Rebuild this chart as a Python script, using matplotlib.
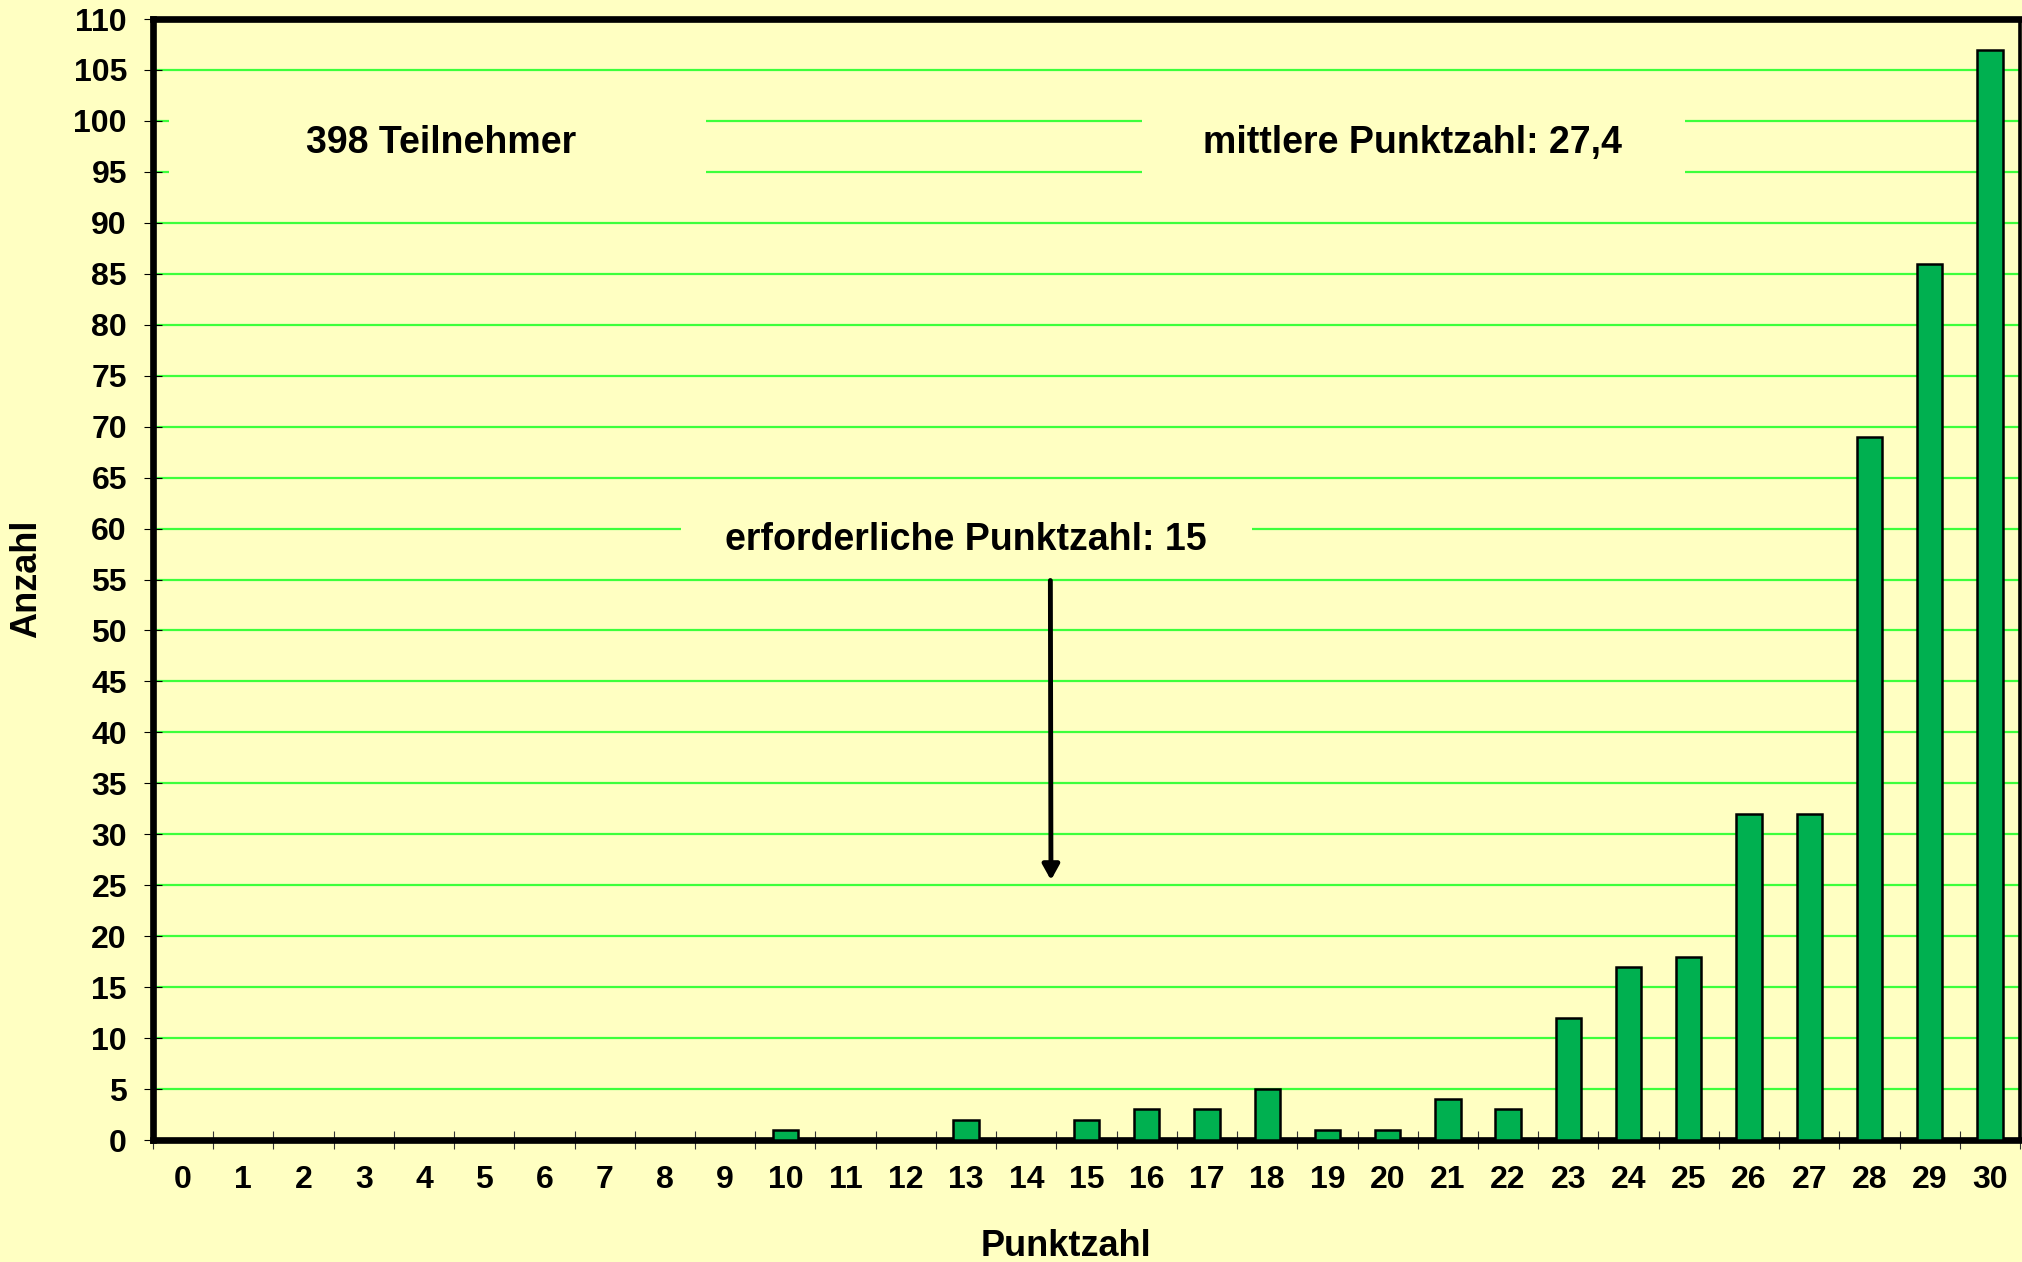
import matplotlib
matplotlib.use("Agg")
import matplotlib.pyplot as plt
from matplotlib.patches import Rectangle
from matplotlib.ticker import FixedLocator, MultipleLocator

# Punktzahl (0..30) and number of participants per score
punktzahl = list(range(0, 31))
anzahl = [0, 0, 0, 0, 0, 0, 0, 0, 0, 0,
          1, 0, 0, 2, 0, 2, 3, 3, 5, 1,
          1, 4, 3, 12, 17, 18, 32, 32, 69, 86,
          107]

teilnehmer_text = "398 Teilnehmer"
mittel_text = "mittlere Punktzahl: 27,4"
erforderlich_text = "erforderliche Punktzahl: 15"
erforderlich = 15

BG = "#FFFFC2"
BAR = "#00B050"
GRID = "#3CFF3C"

plt.rcParams["font.family"] = ["Liberation Sans", "DejaVu Sans"]
plt.rcParams["font.weight"] = "bold"

fig = plt.figure(figsize=(20.22, 12.62), dpi=100, facecolor=BG)
W, H = 2022, 1262
ax = fig.add_axes([153 / W, 1 - 1140 / H, (2020 - 153) / W, (1140 - 19) / H])
ax.set_facecolor(BG)

ax.bar(punktzahl, anzahl, width=0.42, color=BAR, edgecolor="black",
       linewidth=1.8, zorder=3)

ax.set_xlim(-0.5, 30.5)
ax.set_ylim(0, 110)

# y axis
ax.yaxis.set_major_locator(MultipleLocator(5))
ax.yaxis.grid(True, color=GRID, linewidth=1.6, zorder=0)
ax.set_axisbelow(True)
ax.tick_params(axis="y", which="major", direction="inout", length=13.5,
               width=0.8, labelsize=23, pad=12, colors="black")

# x axis: labels centred on categories, tick marks between them
ax.xaxis.set_major_locator(FixedLocator(punktzahl))
ax.set_xticklabels([str(p) for p in punktzahl])
ax.xaxis.set_minor_locator(FixedLocator([p - 0.5 for p in punktzahl] + [30.5]))
ax.tick_params(axis="x", which="major", length=0, labelsize=23, pad=18)
ax.tick_params(axis="x", which="minor", direction="inout", length=13,
               width=0.8, color="#333333")
for lbl in ax.get_xticklabels() + ax.get_yticklabels():
    lbl.set_fontweight("bold")

for side in ("left", "top", "bottom"):
    ax.spines[side].set_linewidth(4.8)
    ax.spines[side].set_zorder(2.5)
ax.spines["right"].set_linewidth(2.6)

# text boxes that sit over the grid lines
def textbox(x0, x1, y0, y1, tx, ty, s):
    ax.add_patch(Rectangle((x0, y0), x1 - x0, y1 - y0, facecolor=BG,
                           edgecolor="none", zorder=1.5))
    ax.text(tx, ty, s, ha="center", va="baseline", fontsize=27,
            fontweight="bold", zorder=4)

textbox(-0.23, 8.69, 92.6, 103.0, 4.29, 96.9, teilnehmer_text)
textbox(15.92, 24.94, 92.6, 103.0, 20.41, 96.9, mittel_text)
textbox(8.26, 17.74, 57.0, 62.8, 13.0, 57.9, erforderlich_text)

# arrow pointing at the required score
ax.annotate("", xy=(erforderlich - 0.59, 25.5), xytext=(erforderlich - 0.6, 54.9),
            arrowprops=dict(arrowstyle="-|>,head_length=0.45,head_width=0.25",
                            lw=3.5, color="black", mutation_scale=20,
                            shrinkA=0, shrinkB=0), zorder=4)

fig.text(27 / W, 1 - 579 / H, "Anzahl", rotation=90, ha="center", va="center",
         fontsize=26, fontweight="bold")
fig.text(1066 / W, 1 - 1256 / H, "Punktzahl", ha="center", va="baseline",
         fontsize=26, fontweight="bold")

fig.savefig("out.png", dpi=100, facecolor=BG)
